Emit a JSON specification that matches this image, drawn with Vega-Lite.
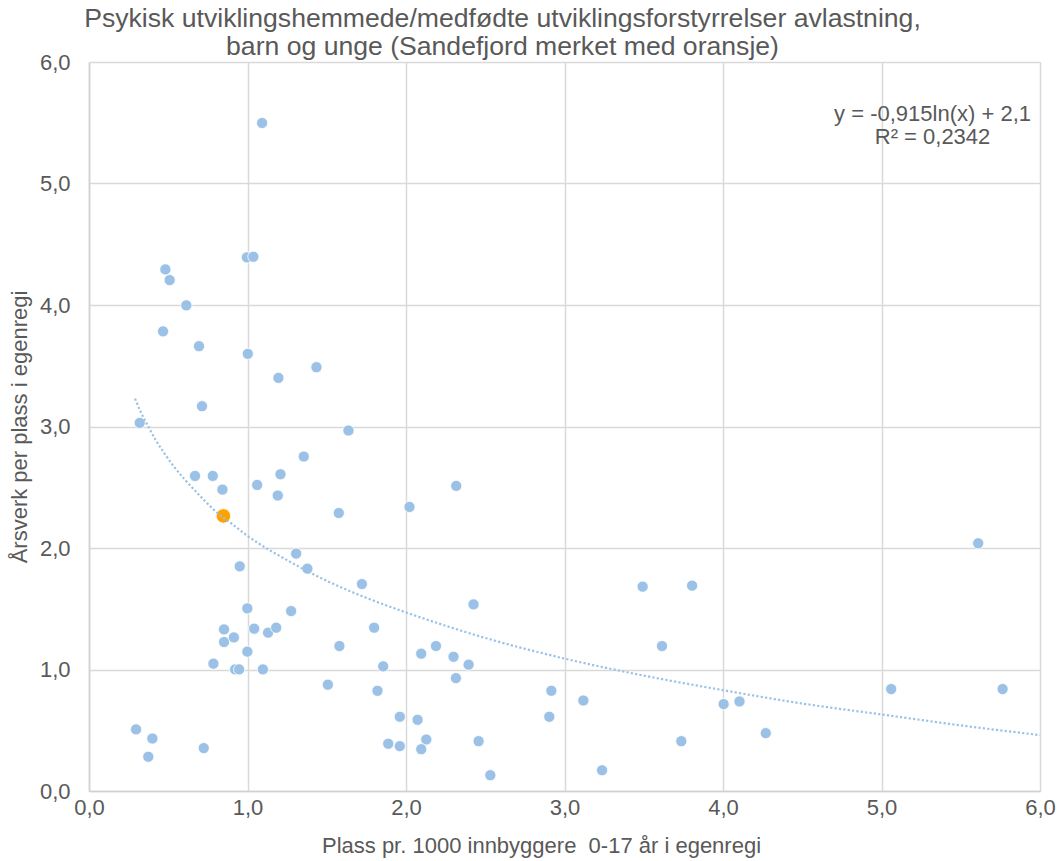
{
  "$schema": "https://vega.github.io/schema/vega-lite/v6.json",
  "width": 951,
  "height": 729,
  "autosize": {"type": "none"},
  "padding": {"left": 89, "top": 62, "right": 22, "bottom": 70},
  "background": "#ffffff",
  "title": {
    "text": [
      "Psykisk utviklingshemmede/medfødte utviklingsforstyrrelser avlastning,",
      "barn og unge (Sandefjord merket med oransje)"
    ],
    "anchor": "middle",
    "dx": -62,
    "dy": 16,
    "offset": 6,
    "fontSize": 26.6,
    "lineHeight": 28,
    "font": "Liberation Sans",
    "fontWeight": "normal",
    "color": "#595959"
  },
  "config": {
    "view": {"stroke": null},
    "font": "Liberation Sans",
    "axis": {
      "grid": true,
      "gridColor": "#D9D9D9",
      "gridWidth": 1.5,
      "domainColor": "#D0D0D0",
      "domainWidth": 1.5,
      "ticks": false,
      "labelFont": "Liberation Sans",
      "labelFontSize": 22,
      "labelColor": "#595959",
      "titleFont": "Liberation Sans",
      "titleFontSize": 22,
      "titleFontWeight": "normal",
      "titleColor": "#595959",
      "labelFlush": false,
      "labelOverlap": false
    }
  },
  "datasets": {
    "kommuner": [
      {"plass": 1.092, "aarsverk": 5.498, "gruppe": "Øvrige"},
      {"plass": 0.996, "aarsverk": 4.392, "gruppe": "Øvrige"},
      {"plass": 1.037, "aarsverk": 4.397, "gruppe": "Øvrige"},
      {"plass": 0.482, "aarsverk": 4.293, "gruppe": "Øvrige"},
      {"plass": 0.509, "aarsverk": 4.205, "gruppe": "Øvrige"},
      {"plass": 0.614, "aarsverk": 3.997, "gruppe": "Øvrige"},
      {"plass": 0.467, "aarsverk": 3.783, "gruppe": "Øvrige"},
      {"plass": 0.694, "aarsverk": 3.661, "gruppe": "Øvrige"},
      {"plass": 1.002, "aarsverk": 3.598, "gruppe": "Øvrige"},
      {"plass": 1.195, "aarsverk": 3.4, "gruppe": "Øvrige"},
      {"plass": 1.435, "aarsverk": 3.488, "gruppe": "Øvrige"},
      {"plass": 0.713, "aarsverk": 3.167, "gruppe": "Øvrige"},
      {"plass": 0.32, "aarsverk": 3.03, "gruppe": "Øvrige"},
      {"plass": 1.637, "aarsverk": 2.967, "gruppe": "Øvrige"},
      {"plass": 0.669, "aarsverk": 2.593, "gruppe": "Øvrige"},
      {"plass": 0.781, "aarsverk": 2.593, "gruppe": "Øvrige"},
      {"plass": 1.355, "aarsverk": 2.753, "gruppe": "Øvrige"},
      {"plass": 0.842, "aarsverk": 2.481, "gruppe": "Øvrige"},
      {"plass": 1.061, "aarsverk": 2.519, "gruppe": "Øvrige"},
      {"plass": 1.208, "aarsverk": 2.607, "gruppe": "Øvrige"},
      {"plass": 1.191, "aarsverk": 2.432, "gruppe": "Øvrige"},
      {"plass": 1.576, "aarsverk": 2.288, "gruppe": "Øvrige"},
      {"plass": 2.022, "aarsverk": 2.338, "gruppe": "Øvrige"},
      {"plass": 2.317, "aarsverk": 2.511, "gruppe": "Øvrige"},
      {"plass": 1.307, "aarsverk": 1.954, "gruppe": "Øvrige"},
      {"plass": 0.951, "aarsverk": 1.849, "gruppe": "Øvrige"},
      {"plass": 1.378, "aarsverk": 1.83, "gruppe": "Øvrige"},
      {"plass": 1.722, "aarsverk": 1.703, "gruppe": "Øvrige"},
      {"plass": 2.426, "aarsverk": 1.536, "gruppe": "Øvrige"},
      {"plass": 0.999, "aarsverk": 1.503, "gruppe": "Øvrige"},
      {"plass": 1.275, "aarsverk": 1.481, "gruppe": "Øvrige"},
      {"plass": 0.852, "aarsverk": 1.33, "gruppe": "Øvrige"},
      {"plass": 0.852, "aarsverk": 1.226, "gruppe": "Øvrige"},
      {"plass": 0.914, "aarsverk": 1.264, "gruppe": "Øvrige"},
      {"plass": 1.042, "aarsverk": 1.336, "gruppe": "Øvrige"},
      {"plass": 1.13, "aarsverk": 1.303, "gruppe": "Øvrige"},
      {"plass": 1.181, "aarsverk": 1.344, "gruppe": "Øvrige"},
      {"plass": 1.799, "aarsverk": 1.344, "gruppe": "Øvrige"},
      {"plass": 0.999, "aarsverk": 1.147, "gruppe": "Øvrige"},
      {"plass": 0.785, "aarsverk": 1.048, "gruppe": "Øvrige"},
      {"plass": 0.922, "aarsverk": 1.001, "gruppe": "Øvrige"},
      {"plass": 0.947, "aarsverk": 1.001, "gruppe": "Øvrige"},
      {"plass": 1.097, "aarsverk": 1.001, "gruppe": "Øvrige"},
      {"plass": 1.58, "aarsverk": 1.193, "gruppe": "Øvrige"},
      {"plass": 2.096, "aarsverk": 1.13, "gruppe": "Øvrige"},
      {"plass": 2.189, "aarsverk": 1.193, "gruppe": "Øvrige"},
      {"plass": 2.3, "aarsverk": 1.105, "gruppe": "Øvrige"},
      {"plass": 2.395, "aarsverk": 1.04, "gruppe": "Øvrige"},
      {"plass": 1.856, "aarsverk": 1.026, "gruppe": "Øvrige"},
      {"plass": 2.315, "aarsverk": 0.929, "gruppe": "Øvrige"},
      {"plass": 1.507, "aarsverk": 0.875, "gruppe": "Øvrige"},
      {"plass": 1.82, "aarsverk": 0.825, "gruppe": "Øvrige"},
      {"plass": 1.961, "aarsverk": 0.611, "gruppe": "Øvrige"},
      {"plass": 2.073, "aarsverk": 0.586, "gruppe": "Øvrige"},
      {"plass": 2.128, "aarsverk": 0.424, "gruppe": "Øvrige"},
      {"plass": 2.096, "aarsverk": 0.344, "gruppe": "Øvrige"},
      {"plass": 1.888, "aarsverk": 0.389, "gruppe": "Øvrige"},
      {"plass": 1.961, "aarsverk": 0.369, "gruppe": "Øvrige"},
      {"plass": 2.458, "aarsverk": 0.41, "gruppe": "Øvrige"},
      {"plass": 0.297, "aarsverk": 0.507, "gruppe": "Øvrige"},
      {"plass": 0.4, "aarsverk": 0.432, "gruppe": "Øvrige"},
      {"plass": 0.374, "aarsverk": 0.282, "gruppe": "Øvrige"},
      {"plass": 0.724, "aarsverk": 0.353, "gruppe": "Øvrige"},
      {"plass": 3.493, "aarsverk": 1.682, "gruppe": "Øvrige"},
      {"plass": 3.805, "aarsverk": 1.69, "gruppe": "Øvrige"},
      {"plass": 3.615, "aarsverk": 1.193, "gruppe": "Øvrige"},
      {"plass": 2.917, "aarsverk": 0.825, "gruppe": "Øvrige"},
      {"plass": 2.904, "aarsverk": 0.611, "gruppe": "Øvrige"},
      {"plass": 3.119, "aarsverk": 0.745, "gruppe": "Øvrige"},
      {"plass": 4.004, "aarsverk": 0.715, "gruppe": "Øvrige"},
      {"plass": 4.104, "aarsverk": 0.737, "gruppe": "Øvrige"},
      {"plass": 3.737, "aarsverk": 0.41, "gruppe": "Øvrige"},
      {"plass": 4.27, "aarsverk": 0.476, "gruppe": "Øvrige"},
      {"plass": 3.237, "aarsverk": 0.171, "gruppe": "Øvrige"},
      {"plass": 2.532, "aarsverk": 0.13, "gruppe": "Øvrige"},
      {"plass": 5.61, "aarsverk": 2.039, "gruppe": "Øvrige"},
      {"plass": 5.061, "aarsverk": 0.839, "gruppe": "Øvrige"},
      {"plass": 5.764, "aarsverk": 0.839, "gruppe": "Øvrige"},
      {"plass": 0.848, "aarsverk": 2.264, "gruppe": "Sandefjord"}
    ],
    "trendlinje": [
      {"plass": 0.29, "aarsverk": 3.23},
      {"plass": 0.33, "aarsverk": 3.11},
      {"plass": 0.37, "aarsverk": 3.01},
      {"plass": 0.42, "aarsverk": 2.89},
      {"plass": 0.47, "aarsverk": 2.79},
      {"plass": 0.53, "aarsverk": 2.68},
      {"plass": 0.6, "aarsverk": 2.57},
      {"plass": 0.7, "aarsverk": 2.43},
      {"plass": 0.8, "aarsverk": 2.3},
      {"plass": 0.9, "aarsverk": 2.2},
      {"plass": 1.0, "aarsverk": 2.1},
      {"plass": 1.25, "aarsverk": 1.9},
      {"plass": 1.5, "aarsverk": 1.73},
      {"plass": 1.75, "aarsverk": 1.59},
      {"plass": 2.0, "aarsverk": 1.47},
      {"plass": 2.5, "aarsverk": 1.26},
      {"plass": 3.0, "aarsverk": 1.09},
      {"plass": 3.5, "aarsverk": 0.95},
      {"plass": 4.0, "aarsverk": 0.83},
      {"plass": 4.5, "aarsverk": 0.72},
      {"plass": 5.0, "aarsverk": 0.63},
      {"plass": 5.5, "aarsverk": 0.54},
      {"plass": 6.0, "aarsverk": 0.46}
    ]
  },
  "layer": [
    {
      "data": {"name": "kommuner"},
      "mark": {"type": "circle", "opacity": 1, "stroke": "#ffffff", "strokeWidth": 0.8},
      "encoding": {
        "x": {
          "field": "plass",
          "type": "quantitative",
          "scale": {"domain": [0, 6], "nice": false, "zero": true},
          "axis": {
            "values": [0, 1, 2, 3, 4, 5, 6],
            "labelExpr": "replace(format(datum.value, '.1f'), '.', ',')",
            "labelPadding": 6,
            "titlePadding": 17,
            "titleX": 452,
            "title": "Plass pr. 1000 innbyggere\u00a0 0-17 år i egenregi"
          }
        },
        "y": {
          "field": "aarsverk",
          "type": "quantitative",
          "scale": {"domain": [0, 6], "nice": false, "zero": true},
          "axis": {
            "values": [0, 1, 2, 3, 4, 5, 6],
            "labelExpr": "replace(format(datum.value, '.1f'), '.', ',')",
            "labelPadding": 19,
            "titlePadding": 8,
            "title": "Årsverk per plass i egenregi"
          }
        },
        "color": {
          "field": "gruppe",
          "type": "nominal",
          "scale": {"domain": ["Øvrige", "Sandefjord"], "range": ["#9BC2E6", "#FFA200"]},
          "legend": null
        },
        "size": {
          "field": "gruppe",
          "type": "nominal",
          "scale": {"domain": ["Øvrige", "Sandefjord"], "range": [125, 210]},
          "legend": null
        }
      }
    },
    {
      "data": {"name": "trendlinje"},
      "mark": {"type": "line", "color": "#9BC2E6", "strokeWidth": 2.2, "strokeDash": [2.2, 2.2], "interpolate": "monotone"},
      "encoding": {
        "x": {"field": "plass", "type": "quantitative"},
        "y": {"field": "aarsverk", "type": "quantitative"}
      }
    },
    {
      "data": {"values": [{}]},
      "mark": {
        "type": "text",
        "text": ["y = -0,915ln(x) + 2,1", "R² = 0,2342"],
        "align": "center",
        "baseline": "alphabetic",
        "fontSize": 22,
        "lineHeight": 23,
        "font": "Liberation Sans",
        "color": "#595959"
      },
      "encoding": {
        "x": {"datum": 5.322, "type": "quantitative"},
        "y": {"datum": 5.515, "type": "quantitative"}
      }
    }
  ]
}
